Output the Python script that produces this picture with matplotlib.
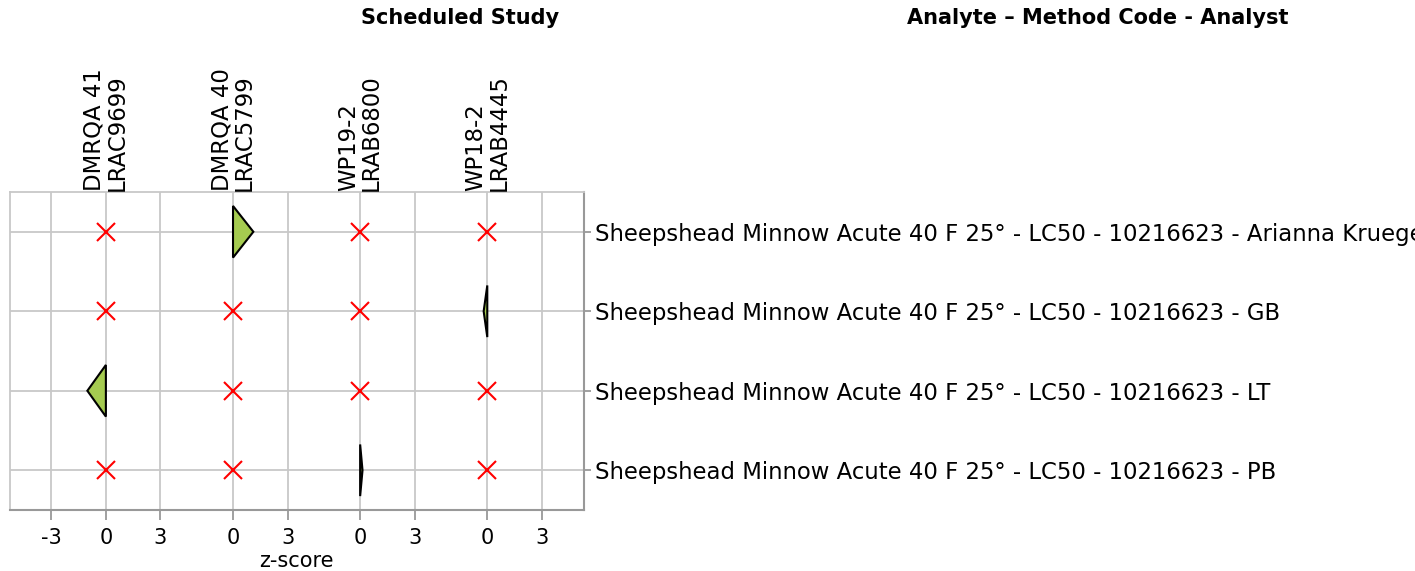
import matplotlib
matplotlib.use("Agg")
import matplotlib.pyplot as plt
from matplotlib.patches import Polygon
from matplotlib.transforms import blended_transform_factory, offset_copy

# studies across the top, analyte rows down the side
studies = ["DMRQA 41\nLRAC9699", "DMRQA 40\nLRAC5799", "WP19-2\nLRAB6800", "WP18-2\nLRAB4445"]
rows = [
    "Sheepshead Minnow Acute 40 F 25° - LC50 - 10216623 - Arianna Krueger",
    "Sheepshead Minnow Acute 40 F 25° - LC50 - 10216623 - GB",
    "Sheepshead Minnow Acute 40 F 25° - LC50 - 10216623 - LT",
    "Sheepshead Minnow Acute 40 F 25° - LC50 - 10216623 - PB",
]
# z-scores per row (one per study); None = no result reported
zscores = [
    [None, 1.12, None, None],
    [None, None, None, -0.2],
    [-1.02, None, None, None],
    [None, None, 0.13, None],
]
col_ticks = [[-3, 0, 3], [0, 3], [0, 3], [0, 3]]

col_step = 7.0      # z-units between study columns
half_h = 0.325      # triangle half height in row units

fig = plt.figure(figsize=(14.15, 5.71), dpi=100)
ax = fig.add_axes([0.0068, 0.1068, 0.4056, 0.5569])

for r, vals in enumerate(zscores):
    for c, z in enumerate(vals):
        x0 = c * col_step
        if z is None:
            ax.plot(x0, r, marker="x", color="red", markersize=13,
                    markeredgewidth=1.5, zorder=3)
        else:
            tri = Polygon([[x0, r - half_h], [x0 + z, r], [x0, r + half_h]],
                          closed=True, facecolor="#a5cb50", edgecolor="black",
                          linewidth=1.5, zorder=3)
            ax.add_patch(tri)

# x ticks: each column has its own local z scale
xt, xl = [], []
for c, ticks in enumerate(col_ticks):
    for t in ticks:
        xt.append(c * col_step + t)
        xl.append(str(t))
ax.set_xticks(xt)
ax.set_xticklabels(xl, fontsize=15)
ax.set_xlim(-5.3, 3 * col_step + 5.3)
ax.set_xlabel("z-score", fontsize=15, labelpad=2)

ax.set_ylim(len(rows) - 0.5, -0.5)
ax.set_yticks(range(len(rows)))
ax.set_yticklabels(rows, fontsize=16.4)
ax.yaxis.tick_right()

ax.grid(True, color="#c8c8c8", linewidth=1.3, zorder=0)
ax.set_axisbelow(True)
ax.tick_params(axis="x", color="#999999", length=7, width=1.3, pad=6)
ax.tick_params(axis="y", color="#999999", length=5, width=1.3, pad=3)
for side in ["top", "left"]:
    ax.spines[side].set_color("#c8c8c8")
    ax.spines[side].set_linewidth(1.3)
for side in ["bottom", "right"]:
    ax.spines[side].set_color("#999999")
    ax.spines[side].set_linewidth(1.5)

# study names standing on top of the plot
trans = offset_copy(blended_transform_factory(ax.transData, ax.transAxes),
                    fig=fig, x=0, y=1, units="points")
for c, name in enumerate(studies):
    ax.text(c * col_step, 1.0, name, transform=trans, rotation=90,
            ha="center", va="bottom", multialignment="left", fontsize=16.4,
            linespacing=1.0)

fig.text(0.325, 0.968, "Scheduled Study", ha="center", va="center",
         fontsize=15, fontweight="bold")
fig.text(0.776, 0.968, "Analyte – Method Code - Analyst", ha="center",
         va="center", fontsize=15, fontweight="bold")

fig.savefig("out.png", dpi=100)
